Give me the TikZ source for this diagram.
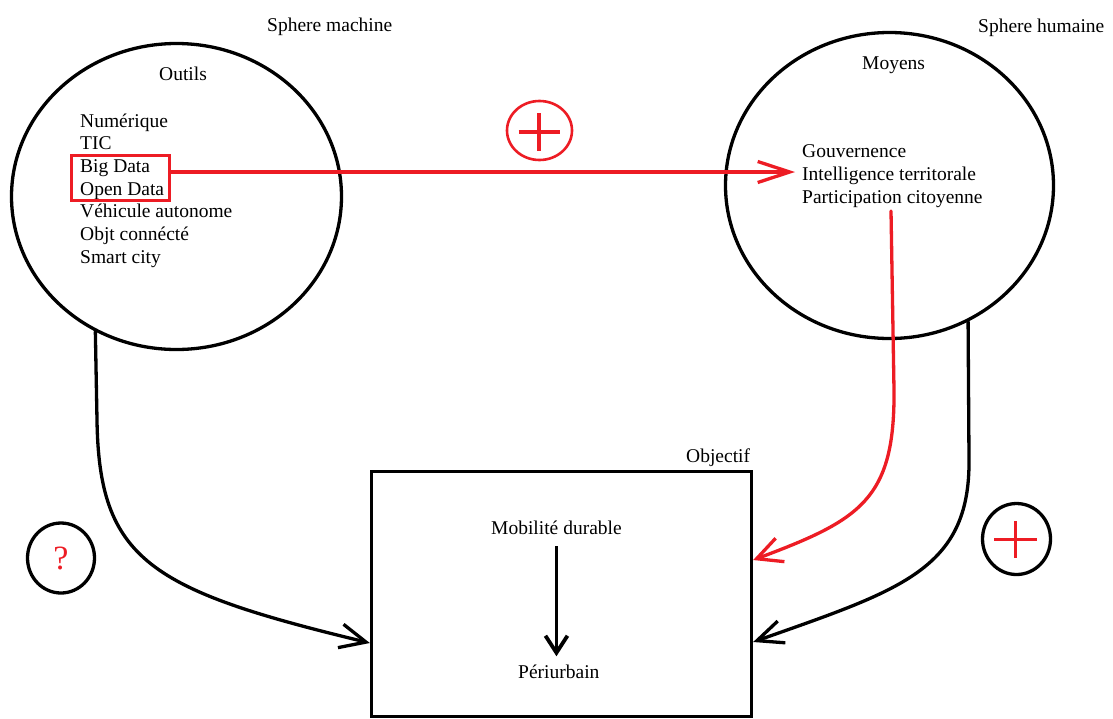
\documentclass[tikz,border=0pt]{standalone}
\usepackage{fontspec}
\setmainfont{Liberation Serif}
\usetikzlibrary{shapes.geometric,arrows.meta}
\definecolor{pred}{RGB}{237,28,36}
\begin{document}
\begin{tikzpicture}[x=1pt,y=-1pt,
  lbl/.style={anchor=base west,inner sep=0pt,font=\fontsize{19.5}{22.7}\selectfont},
  bigcirc/.style={draw,ellipse,line width=3.3pt,inner sep=0pt},
  smallcirc/.style={draw,ellipse,line width=3.3pt,inner sep=0pt},
  conn/.style={line width=3.3pt,line cap=round},
  redconn/.style={line width=3.3pt,draw=pred,line cap=round},
  plusmark/.style={draw=pred,line width=3.3pt}]
\useasboundingbox[fill=white] (0,0) rectangle (1113,718);

% big spheres
\node[bigcirc,minimum width=330pt,minimum height=306pt] (machine) at (176.5,196.5) {};
\node[bigcirc,minimum width=328pt,minimum height=306pt] (humaine) at (889.5,185.5) {};

\node[lbl] (tmach) at (267,31) {Sphere machine};
\node[lbl] (thum) at (978,32) {Sphere humaine};
\node[lbl] (outils) at (159,80) {Outils};
\node[lbl] (moyens) at (862,69) {Moyens};

% left list
\node[lbl] (i1) at (80,127) {Numérique};
\node[lbl] (i2) at (80,149.7) {TIC};
\node[lbl] (i3) at (80,172.4) {Big Data};
\node[lbl] (i4) at (80,195.1) {Open Data};
\node[lbl] (i5) at (80,217.8) {Véhicule autonome};
\node[lbl] (i6) at (80,240.5) {Objt connécté};
\node[lbl] (i7) at (80,263.2) {Smart city};

% right list
\node[lbl] (gouv) at (802,157) {Gouvernence};
\node[lbl] (intel) at (802,180) {Intelligence territorale};
\node[lbl] (partic) at (802,203) {Participation citoyenne};

% red box around Big Data / Open Data
\node[draw=pred,line width=3.3pt,minimum width=98pt,minimum height=45pt,inner sep=0pt] (bdbox) at (120.5,178) {};

% red plus circle (top)
\node[draw=pred,ellipse,line width=2.6pt,minimum width=65pt,minimum height=59pt,inner sep=0pt] (plus1) at (539.5,130.5) {};
\draw[plusmark] ([xshift=-21pt,yshift=-1.5pt]plus1.center) -- ([xshift=20pt,yshift=-1.5pt]plus1.center);
\draw[plusmark] ([xshift=-0.5pt,yshift=17.5pt]plus1.center) -- ([xshift=-0.5pt,yshift=-20.5pt]plus1.center);

% objective box
\node[draw,line width=3.3pt,minimum width=380pt,minimum height=245pt,inner sep=0pt] (obj) at (561.5,594) {};
\node[lbl] (tobj) at (686,462) {Objectif};
\node[lbl] (mob) at (491,534) {Mobilité durable};
\node[lbl] (peri) at (518,678) {Périurbain};
\draw[line width=3.8pt,-{Straight Barb[length=17pt,width=22pt]},shorten <=12pt,shorten >=8pt]
  (mob.south) -- (mob.south |- peri.north);

% question circle
\node[smallcirc,minimum width=67pt,minimum height=70pt,text=pred,font=\fontsize{34}{34}\selectfont] (qm) at (61,558) {?};

% right plus circle
\node[smallcirc,minimum width=68pt,minimum height=71pt] (plus2) at (1016.5,539) {};
\draw[plusmark] ([xshift=-22.5pt,yshift=-0.5pt]plus2.center) -- ([xshift=20.5pt,yshift=-0.5pt]plus2.center);
\draw[plusmark] ([xshift=-1pt,yshift=18pt]plus2.center) -- ([xshift=-1pt,yshift=-19pt]plus2.center);

% connectors
\coordinate (redtip) at (795,172);
\draw[redconn,-{Straight Barb[length=32pt,width=21pt]}] (bdbox.east |- redtip) -- (redtip);

\coordinate (redstart) at (891,211);
\draw[redconn,-{Straight Barb[length=25pt,width=25pt]}] (redstart) -- (894,390)
  .. controls (895,500) and (860,520) .. ([yshift=34pt]obj.east);

\draw[conn,-{Straight Barb[length=26pt,width=24pt]}] (machine.239) -- (97,420)
  .. controls (99,560) and (150,590) .. ([yshift=-49pt]obj.west);

\draw[conn,-{Straight Barb[length=26pt,width=23pt]}] (humaine.300) -- (969,460)
  .. controls (970,570) and (900,590) .. ([yshift=-48pt]obj.east);
\end{tikzpicture}
\end{document}
